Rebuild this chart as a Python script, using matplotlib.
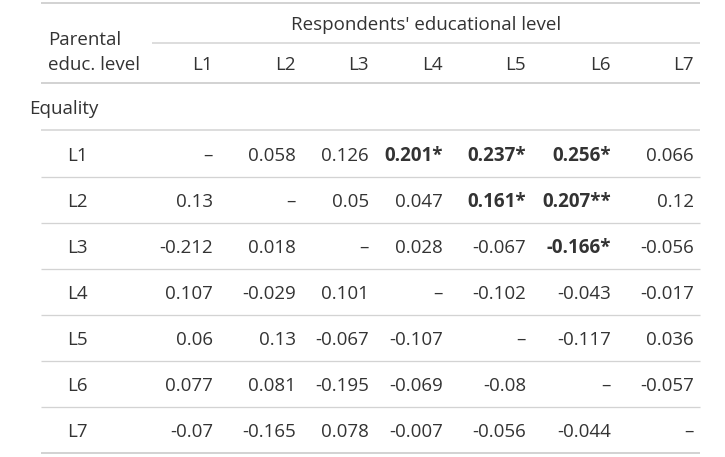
import numpy as np
import matplotlib
matplotlib.use("Agg")
from matplotlib import pyplot as plt

plt.rcParams['font.family'] = ['Open Sans', 'DejaVu Sans']

levels = ['L1', 'L2', 'L3', 'L4', 'L5', 'L6', 'L7']
nan = np.nan
values = [
    [nan, 0.058, 0.126, 0.201, 0.237, 0.256, 0.066],
    [0.13, nan, 0.05, 0.047, 0.161, 0.207, 0.12],
    [-0.212, 0.018, nan, 0.028, -0.067, -0.166, -0.056],
    [0.107, -0.029, 0.101, nan, -0.102, -0.043, -0.017],
    [0.06, 0.13, -0.067, -0.107, nan, -0.117, 0.036],
    [0.077, 0.081, -0.195, -0.069, -0.08, nan, -0.057],
    [-0.07, -0.165, 0.078, -0.007, -0.056, -0.044, nan],
]
stars = [
    ['', '', '', '*', '*', '*', ''],
    ['', '', '', '', '*', '**', ''],
    ['', '', '', '', '', '*', ''],
    ['', '', '', '', '', '', ''],
    ['', '', '', '', '', '', ''],
    ['', '', '', '', '', '', ''],
    ['', '', '', '', '', '', ''],
]
spanner = "Respondents' educational level"
stub_title = ['Parental', 'educ. level']
group = 'Equality'

# layout in pixels
W, H = 725, 457
col_right = [213, 296, 369, 443, 526, 611, 694]
row_y = [156, 202, 248, 294, 340, 386, 432]
txt = '#333333'
line = '#D3D3D3'
fs = 13.5

fig = plt.figure(figsize=(W / 100, H / 100), dpi=100)
ax = fig.add_axes([0, 0, 1, 1])
ax.set_xlim(0, W)
ax.set_ylim(H, 0)
ax.axis('off')

def hline(y, x0=41, x1=700, lw=2):
    ax.plot([x0, x1], [y, y], color=line, lw=lw * 0.72, solid_capstyle='butt')

hline(3)
hline(43, x0=152, lw=1.5)
hline(83)
hline(130, lw=1.5)
for y in [177, 223, 269, 315, 361, 407]:
    hline(y, lw=1.3)
hline(453)

ax.text(426, 25, spanner, ha='center', va='center', fontsize=fs, color=txt)
ax.text(48, 40, stub_title[0], ha='left', va='center', fontsize=fs, color=txt)
ax.text(48, 65, stub_title[1], ha='left', va='center', fontsize=fs, color=txt)
for j, lab in enumerate(levels):
    ax.text(col_right[j], 65, lab, ha='right', va='center', fontsize=fs, color=txt)
ax.text(29, 109, group, ha='left', va='center', fontsize=fs, color=txt)

for i, lab in enumerate(levels):
    ax.text(67, row_y[i], lab, ha='left', va='center', fontsize=fs, color=txt)
    for j in range(len(levels)):
        v = values[i][j]
        s = '\u2013' if np.isnan(v) else f'{v:g}' + stars[i][j]
        ax.text(col_right[j], row_y[i], s, ha='right', va='center', fontsize=fs,
                color=txt, fontweight='bold' if stars[i][j] else 'normal')

fig.savefig('out.png', dpi=100)
